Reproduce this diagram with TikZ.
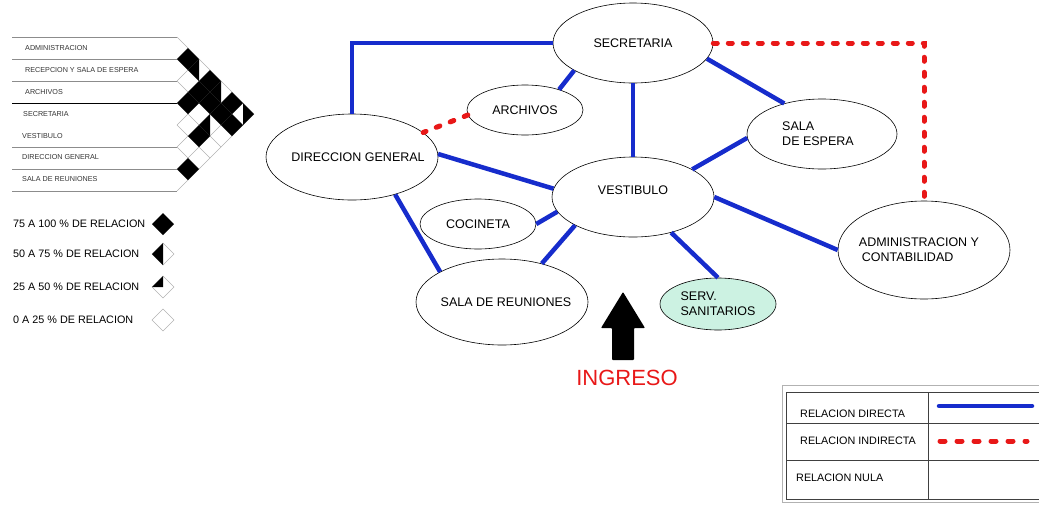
\documentclass[tikz,border=0pt]{standalone}
\usepackage{fontspec}
\setmainfont{Liberation Sans}
\usetikzlibrary{shapes.geometric}
\definecolor{relblue}{RGB}{22,44,204}
\definecolor{relred}{RGB}{232,24,24}
\definecolor{sanit}{RGB}{204,242,226}
\tikzset{
  place/.style={draw,ellipse,line width=0.6pt,inner sep=0pt},
  placetext/.style={inner sep=0pt,align=left,font=\fontsize{12.5}{15}\selectfont},
  direct/.style={line width=4.5pt,relblue},
  indirect/.style={line width=5pt,relred,line cap=round,dash pattern=on 4pt off 11pt},
  rowlabel/.style={anchor=west,inner sep=0pt,text=black!80,font=\fontsize{7.2}{8}\selectfont},
  keylabel/.style={anchor=west,inner sep=0pt,font=\fontsize{10.8}{12}\selectfont},
  gridline/.style={line width=0.4pt,black!30},
  tabline/.style={line width=0.8pt,black!75},
}
\begin{document}
\begin{tikzpicture}[x=1pt,y=-1pt]
\useasboundingbox (0,0) rectangle (1039,504);

% matriz de relaciones
\foreach \y/\c in {37/black!45,59/black!45,81/black!45,103/black,147/black!45,169/black!45,191/black!45}
  \draw[line width=0.5pt,\c] (12,\y) -- (177,\y);
\foreach \k in {0,...,7}{
  \draw[gridline] (177,{37+22*\k}) -- ++({11*(7-\k)},{11*(7-\k)});
  \draw[gridline] (177,{37+22*\k}) -- ++({11*\k},{-11*\k});
}
\foreach \i/\j in {0/1,0/3,1/3,2/3,1/4,0/5,1/5,3/5,1/6,5/6}
  \fill ({177+11*(\j-\i)},{48+11*(\i+\j)}) +(-11,0) -- +(0,-11) -- +(11,0) -- +(0,11) -- cycle;
\foreach \i/\j in {0/2,0/4,2/5}
  \fill ({177+11*(\j-\i)},{48+11*(\i+\j)}) +(-11,0) -- +(0,-11) -- +(0,11) -- cycle;
\fill ({177+66},114) +(0,-11) -- +(11,0) -- +(0,11) -- cycle;

\node[rowlabel] (r0) at (25,48) {ADMINISTRACION};
\node[rowlabel] (r1) at (25,70) {RECEPCION Y SALA DE ESPERA};
\node[rowlabel] (r2) at (25,92) {ARCHIVOS};
\node[rowlabel] (r3) at (23,114) {SECRETARIA};
\node[rowlabel] (r4) at (22,136) {VESTIBULO};
\node[rowlabel] (r5) at (22,157) {DIRECCION GENERAL};
\node[rowlabel] (r6) at (22,179) {SALA DE REUNIONES};

% claves de la matriz
\node[keylabel] (k1) at (13,224) {75 A 100 \% DE RELACION};
\node[keylabel] (k2) at (13,254) {50 A 75 \% DE RELACION};
\node[keylabel] (k3) at (13,287) {25 A 50 \% DE RELACION};
\node[keylabel] (k4) at (13,320) {0 A 25 \% DE RELACION};
\fill (163,224) +(-11,0) -- +(0,-11) -- +(11,0) -- +(0,11) -- cycle;
\draw[gridline] (163,254) +(-11,0) -- +(0,-11) -- +(11,0) -- +(0,11) -- cycle;
\fill (163,254) +(-11,0) -- +(0,-11) -- +(0,11) -- cycle;
\draw[gridline] (163,287) +(-11,0) -- +(0,-11) -- +(11,0) -- +(0,11) -- cycle;
\fill (163,287) +(-11,0) -- +(0,-11) -- +(0,0) -- cycle;
\draw[gridline] (163,320) +(-11,0) -- +(0,-11) -- +(11,0) -- +(0,11) -- cycle;

% ambientes
\node[place,minimum width=160pt,minimum height=80pt,label={[placetext]center:SECRETARIA}] (sec) at (633,43) {};
\node[place,minimum width=116pt,minimum height=50pt,label={[placetext]center:ARCHIVOS}] (arc) at (525,110) {};
\node[place,minimum width=172pt,minimum height=86pt,label={[placetext,xshift=6pt]center:DIRECCION GENERAL}] (dir) at (352,157) {};
\node[place,minimum width=162pt,minimum height=80pt,label={[placetext,yshift=7pt]center:VESTIBULO}] (ves) at (633,197) {};
\node[place,minimum width=150pt,minimum height=70pt,label={[placetext,xshift=-4pt]center:SALA\\DE ESPERA}] (esp) at (822,134) {};
\node[place,minimum width=116pt,minimum height=50pt,label={[placetext]center:COCINETA}] (coc) at (478,224) {};
\node[place,minimum width=172pt,minimum height=86pt,label={[placetext,xshift=4pt]center:SALA DE REUNIONES}] (reu) at (502,302) {};
\node[place,fill=sanit,minimum width=116pt,minimum height=52pt,label={[placetext]center:SERV.\\SANITARIOS}] (san) at (718,304) {};
\node[place,minimum width=172pt,minimum height=98pt,label={[placetext,xshift=-5pt]center:ADMINISTRACION Y\\\hspace*{3pt}CONTABILIDAD}] (adm) at (924,250) {};

\draw[direct] (sec.west) -| (dir.north);
\draw[direct] (sec.205) -- (arc.31);
\draw[direct] (sec) -- (ves);
\draw[direct] (sec.348) -- (esp.141);
\draw[direct] (dir.2) -- (ves.174);
\draw[direct] (esp.183) -- (ves.25);
\draw[direct] (ves.east) -- (adm.west);
\draw[direct] (ves.317) -- (san.north);
\draw[direct] (ves.191) -- (coc.east);
\draw[direct] (ves.206) -- (reu.44);
\draw[direct] (dir.319) -- (reu.154);
\draw[indirect] (arc.185) -- (dir.19);
\draw[indirect] (sec.east) -| (adm.north);

% ingreso
\fill[rounded corners=0.8pt] (623,292) -- (645,328) -- (634,328) -- (634,360) -- (612,360) -- (612,328) -- (601,328) -- cycle;
\node[inner sep=0pt,text=relred,font=\fontsize{22}{26}\selectfont] (ingreso) at (627,378) {INGRESO};

% cuadro de referencias
\draw[line width=0.6pt,black!30] (782,385) rectangle (1050,502);
\draw[tabline] (786,392) rectangle (1050,499);
\draw[tabline] (786,423) -- (1050,423) (786,460) -- (1050,460) (928,392) -- (928,499);
\node[keylabel] (t1) at (800,414) {RELACION DIRECTA};
\node[keylabel] (t2) at (800,441) {RELACION INDIRECTA};
\node[keylabel] (t3) at (796,478) {RELACION NULA};
\coordinate (d1) at (939,406);
\coordinate (d2) at (1032,406);
\coordinate (i1) at (940,441);
\coordinate (i2) at (1027,441);
\draw[direct,line cap=round] (d1) -- (d2);
\draw[indirect,dash pattern=on 5pt off 12pt] (i1) -- (i2);
\end{tikzpicture}
\end{document}
